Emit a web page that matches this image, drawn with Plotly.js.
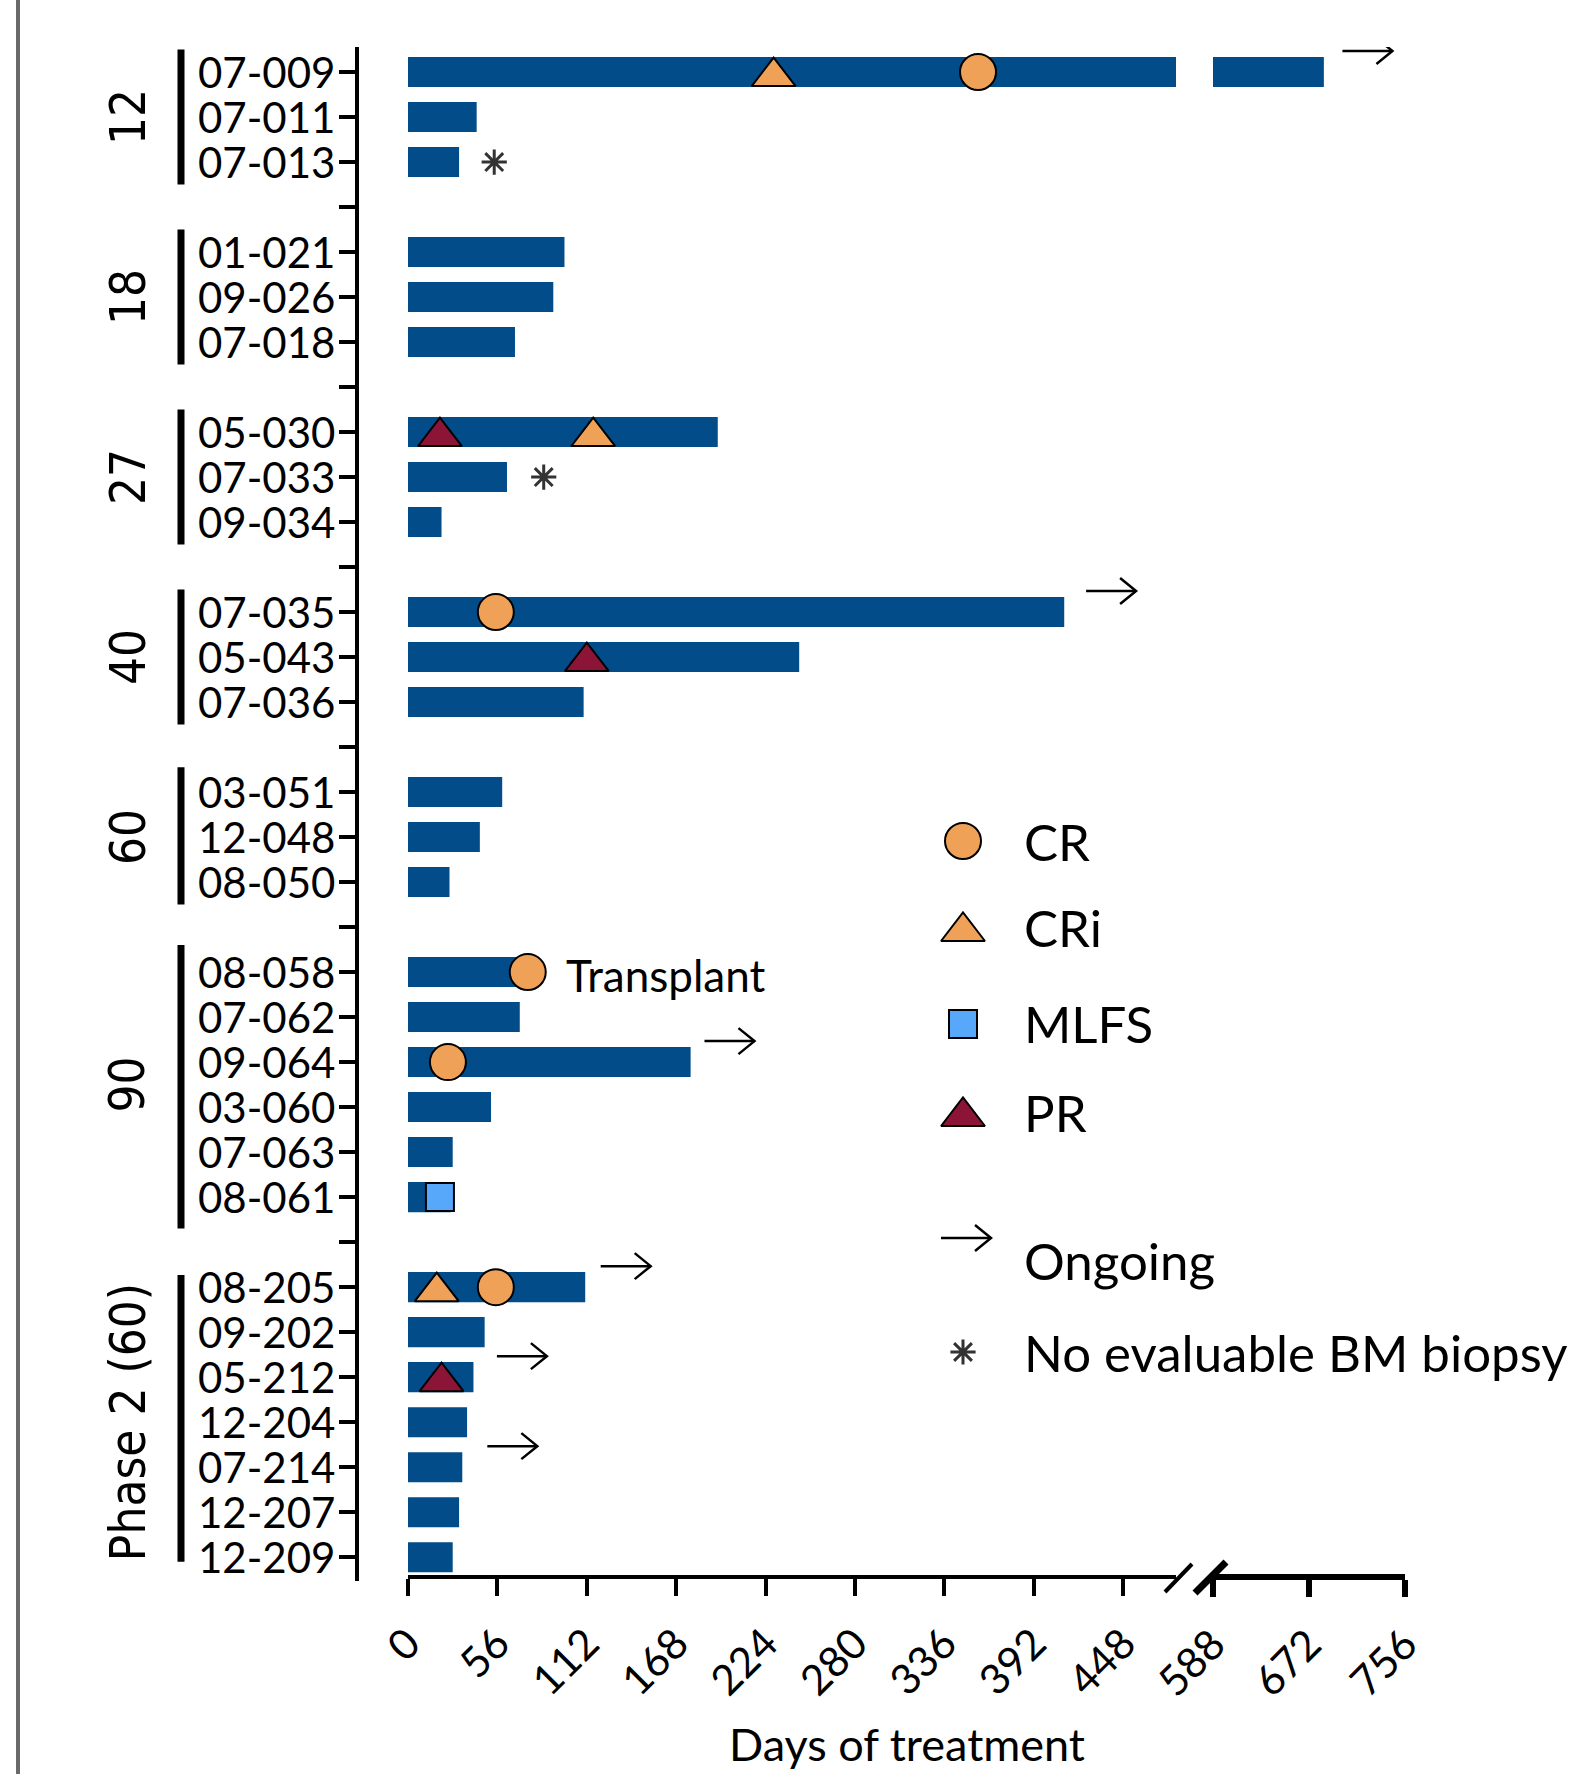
<!DOCTYPE html>
<html><head><meta charset="utf-8">
<script src="https://cdn.plot.ly/plotly-3.0.1.min.js"></script>
<style>html,body{margin:0;padding:0;background:#fff;}#chart{width:1583px;height:1774px;}</style>
</head><body><div id="chart"></div>
<script>
// ---------------- data ----------------
const groupNames = ['12','18','27','40','60','90','Phase 2 (60)'];
const groupSizes = [3,3,3,3,3,6,7];
const patientIds = ['07-009','07-011','07-013','01-021','09-026','07-018','05-030','07-033','09-034',
  '07-035','05-043','07-036','03-051','12-048','08-050','08-058','07-062','09-064','03-060','07-063','08-061',
  '08-205','09-202','05-212','12-204','07-214','12-207','12-209'];
const treatmentDays = [685,43,32,98,91,67,194,62,21,411,245,110,59,45,26,72,70,177,52,28,27,111,48,41,37,34,32,28];

const crIds = ['07-009','07-035','08-058','09-064','08-205'];
const crDays = [357,55,75,25,55];
const criIds = ['07-009','05-030','08-205'];
const criDays = [229,116,18];
const mlfsIds = ['08-061'];
const mlfsDays = [20];
const prIds = ['05-030','05-043','05-212'];
const prDays = [20,112,21];
const noBiopsyIds = ['07-013','07-033'];
const noBiopsyDays = [54,85];
const ongoingIds = ['07-009','07-035','09-064','08-205','05-212','07-214'];
const ongoingArrowDays = [745,456,217,152,87,81];
const transplantIds = ['08-058'];
const transplantDays = [98];

const axis1Ticks = [0,56,112,168,224,280,336,392,448];
const axis2Ticks = [588,672,756];
const axis1Max = 481;
const axis2Range = [588,756];

// ---------------- layout helpers ----------------
const PL=340, PR=1440, PT=47, PB=1581, W=PR-PL, H=PB-PT;
const px = v => (v-PL)/W;
const py = v => (PB-v)/H;
const X1 = [408,1176], X2 = [1213,1405];
const YRANGE = [33.53,-0.556];
const pxPerSlot = H/(YRANGE[0]-YRANGE[1]);
const pxPerDay1 = (X1[1]-X1[0])/axis1Max;
const pxPerDay2 = (X2[1]-X2[0])/(axis2Range[1]-axis2Range[0]);

const slotOf = {}; const tickVals=[]; const tickText=[]; const groupSlots=[];
let s=0, k=0;
groupSizes.forEach((n,g)=>{
  const first=s;
  for(let i=0;i<n;i++){ slotOf[patientIds[k]]=s; tickVals.push(s); tickText.push(patientIds[k]); k++; s++; }
  groupSlots.push([first,s-1]);
  if(g<groupSizes.length-1){ tickVals.push(s); tickText.push(''); s++; }
});

const BAR = '#024c89', ORANGE = '#EFA257', DARKRED = '#8C1537', LBLUE = '#57A8FA';
const TRI_SHIFT = 0.1; // visual centring of triangle markers on the bar

const traces = [];
traces.push({type:'bar', orientation:'h', x:treatmentDays, y:patientIds.map(p=>slotOf[p]),
  width:0.667, marker:{color:BAR}, xaxis:'x', yaxis:'y', hoverinfo:'skip', showlegend:false});
const longIdx = treatmentDays.map((d,i)=>i).filter(i=>treatmentDays[i]>axis2Range[0]);
traces.push({type:'bar', orientation:'h', x:longIdx.map(i=>treatmentDays[i]), y:longIdx.map(i=>slotOf[patientIds[i]]),
  width:0.667, marker:{color:BAR}, xaxis:'x2', yaxis:'y', hoverinfo:'skip', showlegend:false});

function markerTrace(ids, days, symbol, size, color, yoff, lineColor, lineWidth){
  const t1={x:[],y:[]}, t2={x:[],y:[]};
  ids.forEach((id,i)=>{ const t = days[i]>axis1Max ? t2 : t1; t.x.push(days[i]); t.y.push(slotOf[id]+yoff); });
  const base = {type:'scatter', mode:'markers', cliponaxis:false, showlegend:false, hoverinfo:'skip',
    marker:{symbol:symbol, size:size, color:color, opacity:1, line:{color:lineColor||'#000', width:lineWidth||2}}};
  return [Object.assign({}, base, t1, {xaxis:'x', yaxis:'y'}), Object.assign({}, base, t2, {xaxis:'x2', yaxis:'y'})];
}
traces.push(...markerTrace(crIds, crDays, 'circle', 36, ORANGE, 0));
traces.push(...markerTrace(criIds, criDays, 'triangle-up', 38, ORANGE, TRI_SHIFT));
traces.push(...markerTrace(mlfsIds, mlfsDays, 'square', 28, LBLUE, 0));
traces.push(...markerTrace(prIds, prDays, 'triangle-up', 38, DARKRED, TRI_SHIFT));
traces.push(...markerTrace(noBiopsyIds, noBiopsyDays, 'asterisk-open', 21, '#333', 0, '#333', 3));

// "ongoing" arrows drawn as clipped line paths
function arrowTrace(ids, headDays, axisName, ppd){
  const x=[], y=[];
  ids.forEach((id,i)=>{
    const d = headDays[i], yc = slotOf[id] - 21/pxPerSlot, dy = 13/pxPerSlot;
    const tail = d - 50/ppd, barb = d - 16/ppd;
    x.push(tail, d, null, barb, d, barb, null);
    y.push(yc, yc, null, yc-dy, yc, yc+dy, null);
  });
  return {type:'scatter', mode:'lines', x:x, y:y, xaxis:axisName, yaxis:'y', line:{color:'#000', width:2.5},
    connectgaps:false, showlegend:false, hoverinfo:'skip'};
}
const arr1 = ongoingIds.map((id,i)=>i).filter(i=>ongoingArrowDays[i]<=axis1Max);
const arr2 = ongoingIds.map((id,i)=>i).filter(i=>ongoingArrowDays[i]>axis1Max);
traces.push(arrowTrace(arr1.map(i=>ongoingIds[i]), arr1.map(i=>ongoingArrowDays[i]), 'x', pxPerDay1));
traces.push(arrowTrace(arr2.map(i=>ongoingIds[i]), arr2.map(i=>ongoingArrowDays[i]), 'x2', pxPerDay2));

// legend (pixel overlay axes)
const legMarkY = [841, 927, 1024, 1112];
traces.push({type:'scatter', mode:'markers', x:[963,963,963,963], y:[841, 927+4.5, 1024, 1112+4.5], xaxis:'x3', yaxis:'y3',
  cliponaxis:false, showlegend:false, hoverinfo:'skip',
  marker:{symbol:['circle','triangle-up','square','triangle-up'], size:[36,38,28,38], opacity:1,
    color:[ORANGE,ORANGE,LBLUE,DARKRED], line:{color:'#000', width:2}}});
traces.push({type:'scatter', mode:'markers', x:[963], y:[1352], xaxis:'x3', yaxis:'y3',
  marker:{symbol:'asterisk-open', size:21, color:'#333', opacity:1, line:{color:'#333', width:3}},
  cliponaxis:false, showlegend:false, hoverinfo:'skip'});
traces.push({type:'scatter', mode:'lines', x:[941,991,null,975,991,975], y:[1238,1238,null,1225,1238,1251],
  xaxis:'x3', yaxis:'y3', line:{color:'#000', width:2.5}, connectgaps:false, showlegend:false, hoverinfo:'skip'});

const annotations = [];
// y tick labels
tickVals.forEach((v,i)=>{
  if(!tickText[i]) return;
  annotations.push({x:px(337), xref:'paper', y:v, yref:'y', text:tickText[i], showarrow:false,
    xanchor:'right', yanchor:'middle', font:{family:'Lato', size:42, color:'#000'}});
});
transplantIds.forEach((id,i)=>{
  annotations.push({x:transplantDays[i], y:slotOf[id], xref:'x', yref:'y', text:'Transplant', showarrow:false,
    xanchor:'left', yanchor:'middle', yshift:-3, font:{family:'Lato', size:44, color:'#000'}});
});
groupNames.forEach((g,i)=>{
  annotations.push({x:px(128), xref:'paper', y:(groupSlots[i][0]+groupSlots[i][1])/2, yref:'y', text:g, textangle:-90,
    showarrow:false, xanchor:'center', yanchor:'middle', font:{family:'DejaVu Sans Condensed, DejaVu Sans', size:49, color:'#000'}});
});
const legLabels = ['CR','CRi','MLFS','PR'];
legLabels.forEach((t,i)=>{
  annotations.push({x:px(1022), y:py(legMarkY[i]), xref:'paper', yref:'paper', text:t, showarrow:false,
    xanchor:'left', yanchor:'middle', font:{family:'Lato', size:51, color:'#000'}});
});
annotations.push({x:px(1022), y:py(1260), xref:'paper', yref:'paper', text:'Ongoing', showarrow:false,
  xanchor:'left', yanchor:'middle', font:{family:'Lato', size:51, color:'#000'}});
annotations.push({x:px(1022), y:py(1352), xref:'paper', yref:'paper', text:'No evaluable BM biopsy', showarrow:false,
  xanchor:'left', yanchor:'middle', font:{family:'Lato', size:51, color:'#000'}});
annotations.push({x:px(907), y:py(1773), xref:'paper', yref:'paper', text:'Days of treatment', showarrow:false,
  xanchor:'center', yanchor:'bottom', font:{family:'Lato', size:45, color:'#000'}});

const bracketPad = [[0.5,0.5],[0.5,0.5],[0.5,0.5],[0.5,0.5],[0.55,0.5],[0.6,0.7],[0.27,0.1]];
const shapes = [];
groupSlots.forEach((gs,i)=>{
  shapes.push({type:'line', xref:'paper', yref:'y', x0:px(181), x1:px(181), y0:gs[0]-bracketPad[i][0], y1:gs[1]+bracketPad[i][1],
    line:{color:'#000', width:7}});
});
shapes.push({type:'line', xref:'paper', yref:'paper', x0:px(1165), y0:py(1592), x1:px(1192), y1:py(1564), line:{color:'#000', width:4}});
shapes.push({type:'line', xref:'paper', yref:'paper', x0:px(1195), y0:py(1593), x1:px(1226), y1:py(1562), line:{color:'#000', width:7}});
shapes.push({type:'line', xref:'paper', yref:'paper', x0:px(18), y0:py(0), x1:px(18), y1:py(1774), line:{color:'#6a6a6a', width:4}});

const tickFont = {family:'Lato', size:42, color:'#000'};
const layout = {
  width:1583, height:1774, margin:{l:PL, r:1583-PR, t:PT, b:1774-PB, pad:0},
  paper_bgcolor:'#fff', plot_bgcolor:'rgba(0,0,0,0)', showlegend:false, barmode:'overlay',
  xaxis:{domain:[px(X1[0]), px(X1[1])], range:[0,axis1Max], anchor:'free', position:py(1577),
    tickvals:axis1Ticks, ticktext:axis1Ticks.map(String), ticks:'outside', ticklen:17, tickwidth:4, tickcolor:'#000',
    showline:true, linewidth:4, linecolor:'#000', showgrid:false, zeroline:false, tickangle:-45, tickfont:tickFont, ticklabelstandoff:6},
  xaxis2:{domain:[px(X2[0]), px(X2[1])], range:axis2Range, anchor:'free', position:py(1577),
    tickvals:axis2Ticks, ticktext:axis2Ticks.map(String), ticks:'outside', ticklen:17, tickwidth:6, tickcolor:'#000',
    showline:true, linewidth:6, linecolor:'#000', showgrid:false, zeroline:false, tickangle:-45, tickfont:tickFont, ticklabelstandoff:6},
  yaxis:{domain:[0,1], range:YRANGE, anchor:'free', position:px(357),
    tickvals:tickVals, showticklabels:false, ticks:'outside', ticklen:16, tickwidth:4, tickcolor:'#000',
    showline:true, linewidth:4, linecolor:'#000', showgrid:false, zeroline:false},
  xaxis3:{domain:[0,1], range:[PL,PR], anchor:'y3', visible:false, fixedrange:true},
  yaxis3:{domain:[0,1], range:[PB,PT], anchor:'x3', visible:false, fixedrange:true},
  annotations:annotations, shapes:shapes
};
Plotly.newPlot('chart', traces, layout, {staticPlot:true});
</script></body></html>
